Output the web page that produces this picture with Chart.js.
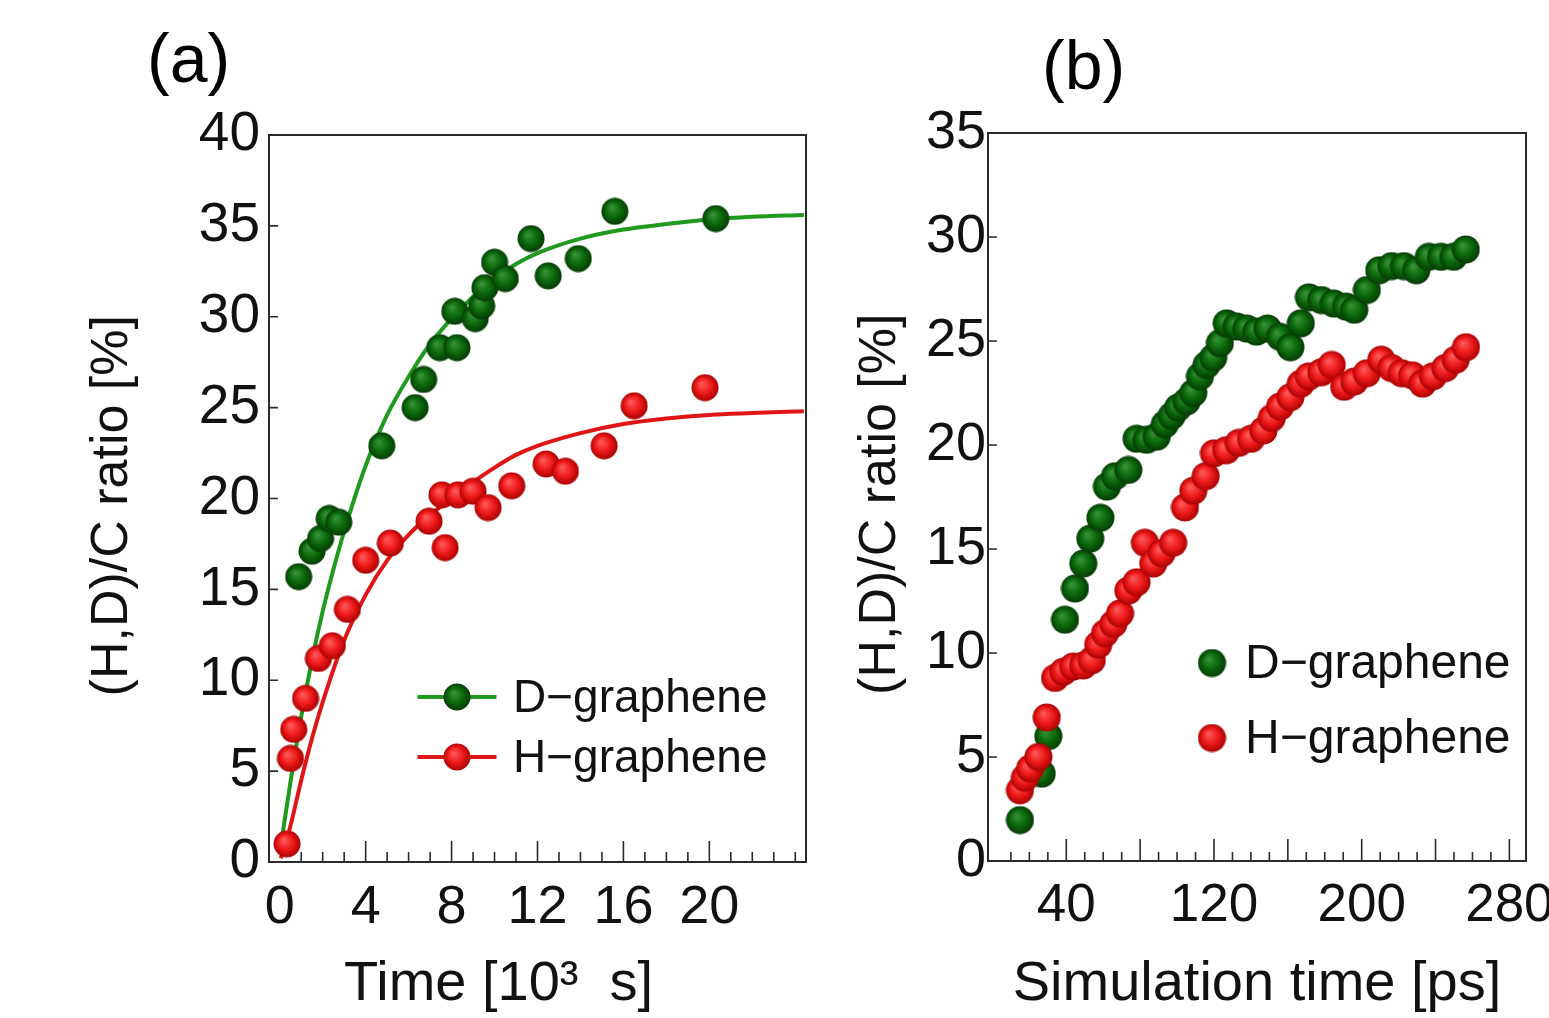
<!DOCTYPE html>
<html>
<head>
<meta charset="utf-8">
<script src="https://cdn.jsdelivr.net/npm/chart.js@4.4.1/dist/chart.umd.min.js"></script>
<style>
  body { margin: 0; background: #fff; width: 1549px; height: 1018px; overflow: hidden; position: relative; font-family: "Liberation Sans", Arial, sans-serif; }
  .panel-label { position: absolute; font-size: 68px; line-height: 1; color: #000; }
  #wrapA { position: absolute; left: 0; top: 0; width: 840px; height: 1018px; }
  #wrapB { position: absolute; left: 840px; top: 0; width: 709px; height: 1018px; }
</style>
</head>
<body>
<div class="panel-label" style="left:147px; top:24px;">(a)</div>
<div class="panel-label" style="left:1042px; top:31px;">(b)</div>
<div id="wrapA"><canvas id="chartA" width="840" height="1018"></canvas></div>
<div id="wrapB"><canvas id="chartB" width="709" height="1018"></canvas></div>
<script>
// (a) experiment, time in 10^3 s
const expD_x = [0.88, 1.5, 1.9, 2.3, 2.75, 4.75, 6.3, 6.7, 7.45, 8.25, 8.15, 9.1, 9.4, 9.55, 10.0, 10.5, 11.7, 12.5, 13.9, 15.6, 20.3];
const expD_y = [15.7, 17.1, 17.8, 18.9, 18.7, 22.9, 25.0, 26.55, 28.3, 28.3, 30.3, 29.9, 30.6, 31.6, 33.0, 32.1, 34.3, 32.25, 33.2, 35.8, 35.4];
const expH_x = [0.34, 0.5, 0.65, 1.2, 1.8, 2.45, 3.15, 4.0, 5.15, 6.95, 7.7, 7.55, 8.3, 9.0, 9.7, 10.8, 12.4, 13.3, 15.1, 16.5, 19.8];
const expH_y = [1.0, 5.7, 7.3, 9.0, 11.2, 11.9, 13.9, 16.6, 17.55, 18.75, 17.3, 20.2, 20.2, 20.4, 19.5, 20.7, 21.9, 21.5, 22.9, 25.1, 26.1];

// fitted curves
const fitD_x = [0, 0.5, 1, 1.5, 2, 2.5, 3, 4, 5, 6, 7, 8, 9, 10, 11, 12, 14, 16, 18, 20, 22, 24.4];
const fitD_y = [0.5, 4.4, 8.0, 11.1, 13.8, 16.1, 18.2, 21.8, 24.6, 26.7, 28.5, 29.9, 31.1, 32.1, 32.9, 33.5, 34.3, 34.8, 35.1, 35.35, 35.5, 35.6];
const fitH_x = [0.05, 0.5, 1, 1.5, 2, 3, 4, 5, 6, 7, 8, 9, 10, 11, 12, 14, 16, 18, 20, 22, 24.4];
const fitH_y = [0.2, 2.0, 4.5, 6.8, 8.8, 12.2, 14.7, 16.6, 18.0, 19.1, 20.0, 20.9, 21.7, 22.4, 22.9, 23.6, 24.1, 24.4, 24.6, 24.7, 24.8];

// (b) simulation, time in ps
const simD_x = [14.9, 26.7, 30.3, 39.3, 44.7, 49.2, 53.0, 58.5, 62.0, 66.4, 73.6, 78.1, 83.5, 89, 93.4, 97.1, 100.6, 105.2, 108.8, 112.4, 116, 119.6, 123.2, 126.9, 132.3, 137.7, 143, 149, 155.8, 161.4, 167, 171.4, 178.2, 184.9, 191.6, 196, 202.8, 209.5, 216.2, 222.9, 229.6, 236.4, 243, 249.8, 256.4];
const simD_y = [1.97, 4.2, 6.0, 11.6, 13.1, 14.3, 15.5, 16.5, 18.0, 18.5, 18.8, 20.3, 20.25, 20.4, 21.0, 21.4, 21.8, 22.1, 22.5, 23.3, 23.85, 24.2, 24.9, 25.85, 25.7, 25.6, 25.45, 25.6, 25.2, 24.7, 25.85, 27.1, 26.97, 26.8, 26.65, 26.5, 27.45, 28.4, 28.6, 28.6, 28.4, 29.05, 29.05, 29.05, 29.4];
const simH_x = [14.9, 17.6, 20.4, 24.9, 29.4, 33.9, 38.4, 43.8, 49.2, 53.8, 57.3, 61, 65.5, 69.1, 73.6, 78.1, 82.6, 87.1, 91.7, 97.9, 104.3, 108.8, 115.5, 120, 126.7, 133.4, 140.1, 146.8, 151.3, 155.8, 161.4, 167, 171.4, 178.2, 183.8, 190.5, 196, 202.8, 210.6, 216.2, 221.7, 227.4, 233, 238.6, 245.3, 250.9, 256.5];
const simH_y = [3.4, 4.0, 4.45, 5.0, 6.9, 8.8, 9.1, 9.35, 9.4, 9.65, 10.4, 10.95, 11.4, 11.9, 13.0, 13.4, 15.3, 14.3, 14.8, 15.3, 17.0, 17.8, 18.5, 19.6, 19.75, 20.1, 20.3, 20.7, 21.3, 21.85, 22.3, 22.95, 23.3, 23.5, 23.85, 22.8, 23.05, 23.45, 24.1, 23.7, 23.45, 23.35, 22.95, 23.3, 23.7, 24.1, 24.7];

// tick labels
const ticksA_x = [0, 4, 8, 12, 16, 20];
const ticksA_y = [0, 5, 10, 15, 20, 25, 30, 35, 40];
const ticksB_x = [40, 120, 200, 280];
const ticksB_y = [0, 5, 10, 15, 20, 25, 30, 35];

const GREEN_LINE = '#1f9a1f';
const RED_LINE = '#e01515';
const FONT = '"Liberation Sans", Arial, sans-serif';
const NB = '\u00a0';

function pts(xs, ys) {
    return xs.map((x, i) => ({ x: x, y: ys[i] }));
}

function range(a, b, step) {
    const out = [];
    for (let v = a; v <= b + 1e-9; v += step) out.push(v);
    return out;
}

// shaded ball used as point style
function makeBall(d, c0, c1, c2) {
    const cv = document.createElement('canvas');
    cv.width = d;
    cv.height = d;
    const g = cv.getContext('2d');
    const r = d / 2;
    const grad = g.createRadialGradient(r * 0.75, r * 0.7, 0, r, r, r);
    grad.addColorStop(0, c0);
    grad.addColorStop(0.55, c1);
    grad.addColorStop(1, c2);
    g.fillStyle = grad;
    g.beginPath();
    g.arc(r, r, r - 0.5, 0, Math.PI * 2);
    g.fill();
    return cv;
}

const greenA = makeBall(28, '#3a963a', '#0b690b', '#043804');
const redA = makeBall(28, '#ff6060', '#ef1a1a', '#a50000');
const greenB = makeBall(29, '#3a963a', '#0b690b', '#043804');
const redB = makeBall(29, '#ff6060', '#ef1a1a', '#a50000');

// box frame plus inward tick marks
const frameTicks = {
    id: 'frameTicks',
    beforeDatasetsDraw(chart, args, opts) {
        const { ctx, chartArea: a, scales: { x, y } } = chart;
        ctx.save();
        ctx.strokeStyle = '#2a2a2a';
        ctx.lineWidth = 2;
        ctx.strokeRect(a.left, a.top, a.right - a.left, a.bottom - a.top);
        ctx.lineWidth = 1.6;
        ctx.beginPath();
        opts.xMinor.forEach(v => {
            const px = x.getPixelForValue(v);
            ctx.moveTo(px, a.bottom);
            ctx.lineTo(px, a.bottom - opts.minorLen);
        });
        opts.xMajor.forEach(v => {
            const px = x.getPixelForValue(v);
            ctx.moveTo(px, a.bottom);
            ctx.lineTo(px, a.bottom - opts.majorLen);
        });
        opts.yTicks.forEach(v => {
            const py = y.getPixelForValue(v);
            ctx.moveTo(a.left, py);
            ctx.lineTo(a.left + opts.yLen, py);
        });
        ctx.stroke();
        ctx.restore();
    }
};

// legend drawn inside the plot box
const insideLegend = {
    id: 'insideLegend',
    afterDatasetsDraw(chart, args, opts) {
        const { ctx, chartArea: a } = chart;
        const items = chart.data.datasets.filter(ds => ds.inLegend).sort((p, q) => p.legendPos - q.legendPos);
        ctx.save();
        ctx.font = opts.font;
        ctx.textBaseline = 'middle';
        ctx.textAlign = 'left';
        items.forEach((ds, i) => {
            const cx = a.left + opts.left;
            const cy = a.top + opts.top + i * opts.gap;
            if (opts.lineLen) {
                ctx.strokeStyle = ds.legendLine;
                ctx.lineWidth = 4;
                ctx.beginPath();
                ctx.moveTo(cx - opts.lineLen / 2, cy);
                ctx.lineTo(cx + opts.lineLen / 2, cy);
                ctx.stroke();
            }
            const img = ds.pointStyle;
            ctx.drawImage(img, cx - img.width / 2, cy - img.height / 2);
            ctx.fillStyle = '#111';
            ctx.fillText(ds.label, cx + opts.textGap, cy + 2);
        });
        ctx.restore();
    }
};

function fixedTicks(values) {
    return scale => { scale.ticks = values.map(v => ({ value: v })); };
}

// fixed axis box sizes, no extra padding for overhanging labels
function fitX(h) {
    return s => { s.height = h; s.paddingLeft = 0; s.paddingRight = 0; };
}
function fitY(w) {
    return s => { s.width = w; s.paddingTop = 0; s.paddingBottom = 0; };
}

const chartA = new Chart(document.getElementById('chartA'), {
    type: 'scatter',
    data: {
        datasets: [
            { label: 'H\u2212graphene', data: pts(expH_x, expH_y), pointStyle: redA, pointRadius: 14, order: 0, inLegend: true, legendPos: 1, legendLine: RED_LINE },
            { label: 'D\u2212graphene', data: pts(expD_x, expD_y), pointStyle: greenA, pointRadius: 14, order: 1, inLegend: true, legendPos: 0, legendLine: GREEN_LINE },
            { label: 'H fit', data: pts(fitH_x, fitH_y), showLine: true, pointRadius: 0, borderColor: RED_LINE, borderWidth: 4, cubicInterpolationMode: 'monotone', order: 2 },
            { label: 'D fit', data: pts(fitD_x, fitD_y), showLine: true, pointRadius: 0, borderColor: GREEN_LINE, borderWidth: 4, cubicInterpolationMode: 'monotone', order: 3 }
        ]
    },
    options: {
        responsive: false,
        animation: false,
        events: [],
        layout: { padding: { top: 135, right: 34, bottom: 0, left: 0 } },
        plugins: {
            legend: { display: false },
            tooltip: { enabled: false },
            frameTicks: { xMinor: range(1, 24, 1), xMajor: [4, 8, 12, 16, 20], yTicks: range(5, 35, 5), minorLen: 10, majorLen: 21, yLen: 9 },
            insideLegend: { left: 188, top: 562, gap: 60, lineLen: 79, textGap: 56, font: '46px ' + FONT }
        },
        scales: {
            x: {
                type: 'linear',
                min: -0.5,
                max: 24.5,
                afterBuildTicks: fixedTicks(ticksA_x),
                afterFit: fitX(156),
                grid: { display: false, drawTicks: false },
                border: { display: false },
                ticks: { color: '#111', font: { family: FONT, size: 54 }, padding: 14, maxRotation: 0, autoSkip: false },
                title: { display: true, text: 'Time [10\u00b3' + NB + NB + 's]' + NB.repeat(5), color: '#111', font: { family: FONT, size: 56 }, padding: { top: 0, bottom: 0 } }
            },
            y: {
                min: 0,
                max: 40,
                afterBuildTicks: fixedTicks(ticksA_y),
                afterFit: fitY(269),
                grid: { display: false, drawTicks: false },
                border: { display: false },
                ticks: { color: '#111', font: { family: FONT, size: 55 }, padding: 9, autoSkip: false },
                title: { display: true, text: '(H,D)/C ratio [%]' + NB, color: '#111', font: { family: FONT, size: 52 }, padding: { top: 81, bottom: 0 } }
            }
        }
    },
    plugins: [frameTicks, insideLegend]
});

const chartB = new Chart(document.getElementById('chartB'), {
    type: 'scatter',
    data: {
        datasets: [
            { label: 'D\u2212graphene', data: pts(simD_x, simD_y), pointStyle: greenB, pointRadius: 14, order: 1, inLegend: true, legendPos: 0 },
            { label: 'H\u2212graphene', data: pts(simH_x, simH_y), pointStyle: redB, pointRadius: 14, order: 0, inLegend: true, legendPos: 1 }
        ]
    },
    options: {
        responsive: false,
        animation: false,
        events: [],
        layout: { padding: { top: 133, right: 23, bottom: 0, left: 0 } },
        plugins: {
            legend: { display: false },
            tooltip: { enabled: false },
            frameTicks: { xMinor: range(10, 280, 10), xMajor: range(40, 280, 40), yTicks: range(5, 30, 5), minorLen: 9, majorLen: 22, yLen: 9 },
            insideLegend: { left: 224, top: 530, gap: 75, lineLen: 0, textGap: 33, font: '48px ' + FONT }
        },
        scales: {
            x: {
                type: 'linear',
                min: -2.4,
                max: 289,
                afterBuildTicks: fixedTicks(ticksB_x),
                afterFit: fitX(157),
                grid: { display: false, drawTicks: false },
                border: { display: false },
                ticks: { color: '#111', font: { family: FONT, size: 53 }, padding: 14, maxRotation: 0, autoSkip: false },
                title: { display: true, text: 'Simulation time [ps]', color: '#111', font: { family: FONT, size: 56 }, padding: { top: 0, bottom: 0 } }
            },
            y: {
                min: 0,
                max: 35,
                afterBuildTicks: fixedTicks(ticksB_y),
                afterFit: fitY(148),
                grid: { display: false, drawTicks: false },
                border: { display: false },
                ticks: { color: '#111', font: { family: FONT, size: 54 }, padding: 2, autoSkip: false },
                title: { display: true, text: '(H,D)/C ratio [%]' + NB, color: '#111', font: { family: FONT, size: 52 }, padding: { top: 9, bottom: 0 } }
            }
        }
    },
    plugins: [frameTicks, insideLegend]
});
</script>
</body>
</html>
